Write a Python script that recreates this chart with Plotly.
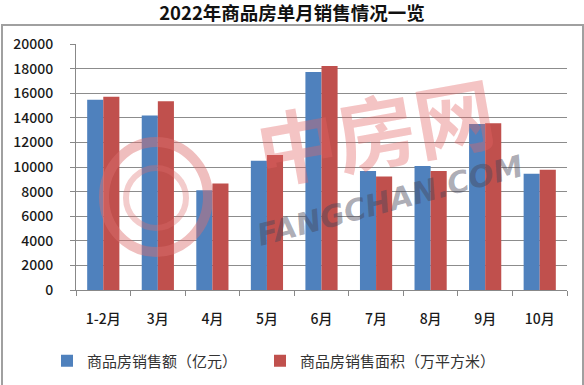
import plotly.graph_objects as go

categories = ["1-2月", "3月", "4月", "5月", "6月", "7月", "8月", "9月", "10月"]
sales_amount = [15459, 14193, 8107, 10510, 17719, 9672, 10076, 13486, 9461]
sales_area = [15703, 15341, 8665, 10975, 18212, 9237, 9674, 13547, 9767]
y_ticks = list(range(0, 20001, 2000))

W, H = 584, 385
L, R, T, B = 76, 17, 44, 95

font = "Noto Sans CJK SC"

PW, PH = W - L - R, H - T - B
px = lambda x: (x - L) / PW
py = lambda y: (H - B - y) / PH

fig = go.Figure()
fig.add_trace(go.Bar(x=categories, y=sales_amount, name="商品房销售额（亿元）",
                     marker=dict(color="#4F81BD", line=dict(width=0)), legend="legend"))
fig.add_trace(go.Bar(x=categories, y=sales_area, name="商品房销售面积（万平方米）",
                     marker=dict(color="#C0504D", line=dict(width=0)), legend="legend2"))

legend_common = dict(orientation="h", xanchor="left", yanchor="middle", y=py(361),
                     font=dict(size=15, color="#333"), bgcolor="rgba(0,0,0,0)")

fig.update_layout(
    width=W, height=H,
    margin=dict(l=L, r=R, t=T, b=B, autoexpand=False),
    paper_bgcolor="white", plot_bgcolor="white",
    barmode="group", bargap=0.41, bargroupgap=0,
    font=dict(family=font, size=14, color="#222"),
    title=dict(text="<b>2022年商品房单月销售情况一览</b>", x=0.5, xanchor="center",
               y=1 - 14 / H, yanchor="middle", font=dict(size=18.5, color="#111")),
    showlegend=True,
    legend=dict(x=px(47), **legend_common),
    legend2=dict(x=px(260), **legend_common),
    xaxis=dict(type="category", showline=True, linecolor="#888", linewidth=1,
               ticks="outside", tickson="boundaries", ticklen=5, tickcolor="#888",
               showgrid=False, ticklabelstandoff=16, automargin=False,
               tickfont=dict(size=14, color="#1a1a1a", weight=500)),
    yaxis=dict(range=[0, 20000], tickvals=y_ticks, tickformat="d", showline=True,
               linecolor="#888", linewidth=1, automargin=False,
               ticks="outside", ticklen=5, tickcolor="#888", showgrid=True, gridcolor="#8c8c8c",
               gridwidth=1, zeroline=False, ticklabelstandoff=14,
               tickfont=dict(size=14, color="#1a1a1a", weight=500)),
)

# outer frame
fig.add_shape(type="rect", xref="paper", yref="paper",
              x0=px(2), x1=px(583), y0=py(400), y1=py(25),
              line=dict(color="#a0a0a0", width=2), layer="below")

# watermark
fig.add_shape(type="circle", xref="paper", yref="paper",
              x0=px(104), x1=px(208), y0=py(252), y1=py(142),
              line=dict(color="rgba(220,110,110,0.45)", width=10), layer="above")
fig.add_shape(type="circle", xref="paper", yref="paper",
              x0=px(126), x1=px(186), y0=py(228), y1=py(168),
              line=dict(color="rgba(220,110,110,0.35)", width=6), layer="above")
fig.add_annotation(xref="paper", yref="paper", text="<b>中房网</b>",
                   x=px(375), y=py(128),
                   showarrow=False, textangle=-10,
                   font=dict(family=font, size=80, color="rgba(225,100,100,0.38)"))
fig.add_annotation(xref="paper", yref="paper", text="<b><i>FANGCHAN.COM</i></b>",
                   x=px(390), y=py(200),
                   showarrow=False, textangle=-15,
                   font=dict(family="DejaVu Sans", size=30, color="rgba(70,70,90,0.45)"))

fig.write_html("out.html", config={"displayModeBar": False},
               post_script="document.body.style.margin='0';document.body.style.padding='0';")
